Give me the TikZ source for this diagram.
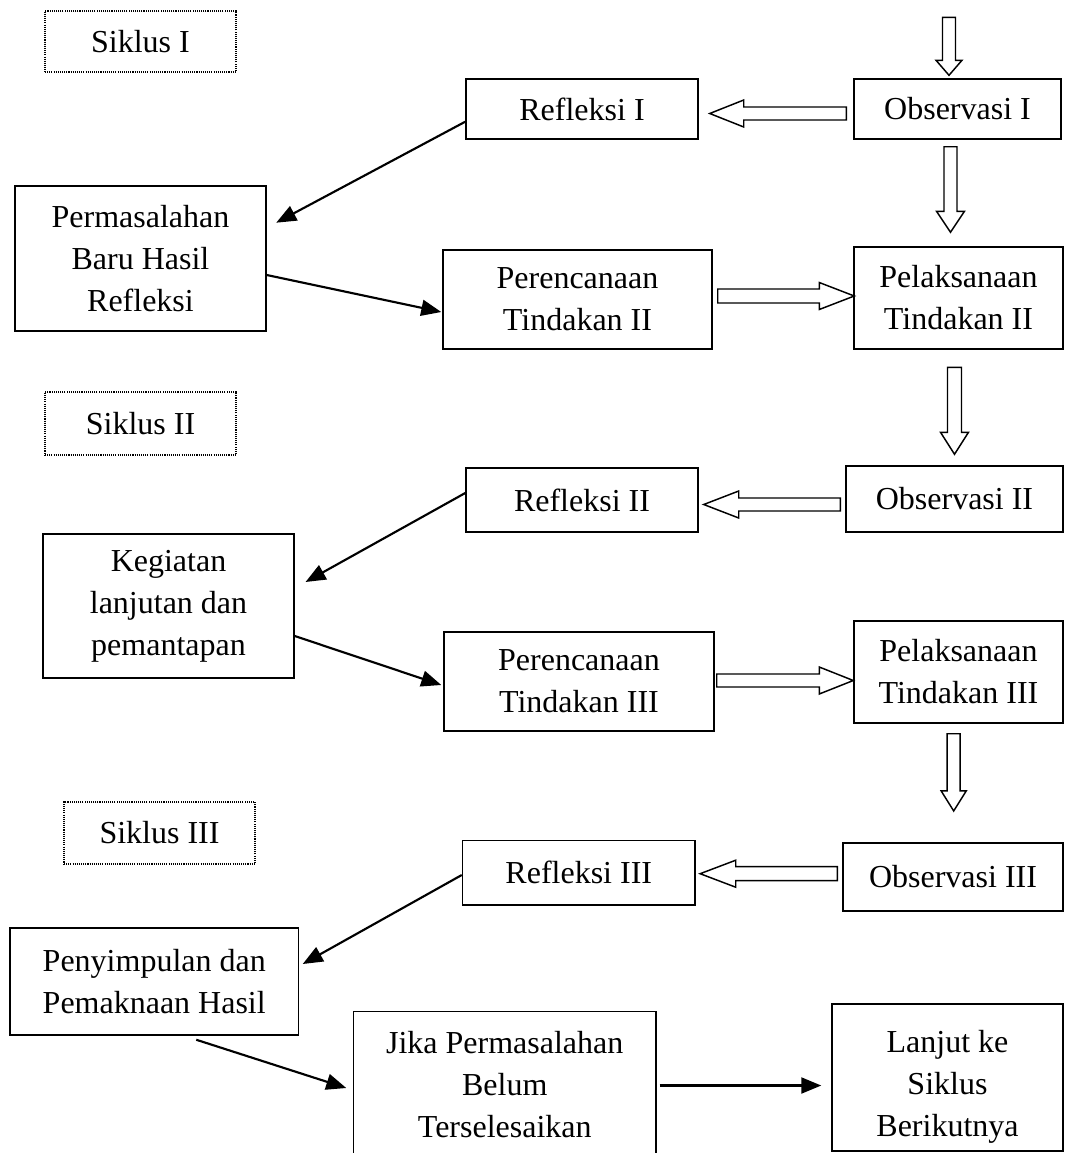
\documentclass[tikz,border=0pt]{standalone}
\usepackage{fontspec}
\setmainfont{Liberation Serif}
\usetikzlibrary{arrows.meta,calc}

\tikzset{
  txt/.style={font=\fontsize{24pt}{31.5pt}\selectfont, align=center},
  sz/.style 2 args={minimum width=#1*0.75pt, minimum height=#2*0.75pt},
  box/.style={draw, line width=1.1pt, inner sep=0pt, txt},
  cyclebox/.style={draw, line width=0.8pt, dash pattern=on 0.8pt off 0.8pt, inner sep=0pt, txt},
  arr/.style={line width=1.6pt, -{Triangle[length=15pt,width=12pt]}},
  blockarr/.style={draw, line width=1.1pt, fill=white, line join=miter},
}

% hollow block arrows: #1 start, #2 tip, #3 head length, #4 shaft half width, #5 head half width (px)
\newcommand\downblock[5]{\draw[blockarr] let \p1=(#1), \p2=(#2) in
  (\x1-#4*0.75pt,\y1) -- (\x1+#4*0.75pt,\y1) -- (\x1+#4*0.75pt,\y2+#3*0.75pt)
  -- (\x1+#5*0.75pt,\y2+#3*0.75pt) -- (\x1,\y2) -- (\x1-#5*0.75pt,\y2+#3*0.75pt)
  -- (\x1-#4*0.75pt,\y2+#3*0.75pt) -- cycle;}
\newcommand\leftblock[5]{\draw[blockarr] let \p1=(#1), \p2=(#2) in
  (\x1,\y1-#4*0.75pt) -- (\x1,\y1+#4*0.75pt) -- (\x2+#3*0.75pt,\y1+#4*0.75pt)
  -- (\x2+#3*0.75pt,\y1+#5*0.75pt) -- (\x2,\y1) -- (\x2+#3*0.75pt,\y1-#5*0.75pt)
  -- (\x2+#3*0.75pt,\y1-#4*0.75pt) -- cycle;}
\newcommand\rightblock[5]{\draw[blockarr] let \p1=(#1), \p2=(#2) in
  (\x1,\y1-#4*0.75pt) -- (\x1,\y1+#4*0.75pt) -- (\x2-#3*0.75pt,\y1+#4*0.75pt)
  -- (\x2-#3*0.75pt,\y1+#5*0.75pt) -- (\x2,\y1) -- (\x2-#3*0.75pt,\y1-#5*0.75pt)
  -- (\x2-#3*0.75pt,\y1-#4*0.75pt) -- cycle;}

\begin{document}
\begin{tikzpicture}[x=0.75pt, y=-0.75pt]
\useasboundingbox (0,0) rectangle (1064,1153);
\clip (0,0) rectangle (1064,1153);

% cycle labels
\node[cyclebox, sz={191}{61}] (s1) at (140.5,41.5) {Siklus I};
\node[cyclebox, sz={191}{63}] (s2) at (140.5,423.5) {Siklus II};
\node[cyclebox, sz={191}{62}] (s3) at (159.5,833) {Siklus III};

% cycle I
\node[box, sz={232}{60}] (ref1) at (582,109) {Refleksi I};
\node[box, sz={207}{60}] (obs1) at (957.5,109) {Observasi I};
\node[box, sz={251}{145}] (perm) at (140.5,258.5) {Permasalahan\\Baru Hasil\\Refleksi};
\node[box, sz={269}{99}] (per2) at (577.5,299.5) {Perencanaan\\Tindakan II};
\node[box, sz={209}{102}] (pel2) at (958.5,298) {Pelaksanaan\\Tindakan II};

% cycle II
\node[box, sz={232}{64}] (ref2) at (582,500) {Refleksi II};
\node[box, sz={217}{66}] (obs2) at (954.5,499) {Observasi II};
\node[box, sz={251}{144}] (keg) at (168.5,606) {Kegiatan\\lanjutan dan\\pemantapan};
\node[box, sz={270}{99}] (per3) at (579,681.5) {Perencanaan\\Tindakan III};
\node[box, sz={209}{102}] (pel3) at (958.5,672) {Pelaksanaan\\Tindakan III};

% cycle III
\node[box, sz={232.5}{64.5}] (ref3) at (578.75,872.75) {Refleksi III};
\node[box, sz={220}{68}] (obs3) at (953,877) {Observasi III};
\node[box, sz={288.5}{107}] (peny) at (154.25,981.5) {Penyimpulan dan\\Pemaknaan Hasil};
\node[box, sz={302.5}{147}] (jika) at (504.75,1085) {Jika Permasalahan\\Belum\\Terselesaikan};
\node[box, sz={231}{147}, label={[txt, yshift=-7pt]center:Lanjut ke\\Siklus\\Berikutnya}] (lanj) at (947.5,1077.5) {};

% free start of the top block arrow
\coordinate (top) at ([shift={(-8.5,-61)}]obs1.north);

% hollow block arrows
\downblock{top}{[shift={(-8.5,-3)}]obs1.north}{15}{6.5}{13}
\leftblock{[shift={(-7,4.5)}]obs1.west}{[shift={(11,4.5)}]ref1.east}{34}{6.5}{13.5}
\downblock{[shift={(-7,7)}]obs1.south}{[shift={(-8,-14)}]pel2.north}{21}{6.5}{14}
\rightblock{[shift={(5,-3.5)}]per2.east}{[shift={(1,-2)}]pel2.west}{35}{7}{13.5}
\downblock{[shift={(-4,17.7)}]pel2.south}{[shift={(0,-11)}]obs2.north}{22}{7}{14}
\leftblock{[shift={(-5,5.5)}]obs2.west}{[shift={(5,4.5)}]ref2.east}{35}{6.5}{13.5}
\rightblock{[shift={(2,-1)}]per3.east}{[shift={(0,8.5)}]pel3.west}{34}{6.5}{13.5}
\downblock{[shift={(-4.8,10)}]pel3.south}{[shift={(0.7,-31.3)}]obs3.north}{20}{6.5}{12.5}
\leftblock{[shift={(-5,-3.3)}]obs3.west}{[shift={(4.4,1)}]ref3.east}{35.6}{7}{13.5}

% solid arrows
\draw[arr] ([shift={(0,12.7)}]ref1.west) -- ([shift={(9.5,-35.8)}]perm.east);
\draw[arr] ([shift={(0,16.5)}]perm.east) -- ([shift={(-1,12.5)}]per2.west);
\draw[arr] ([shift={(0,-7)}]ref2.west) -- ([shift={(10.8,-24)}]keg.east);
\draw[arr] ([shift={(0,30)}]keg.east) -- ([shift={(-2,3.5)}]per3.west);
\draw[arr] ([shift={(0,2.25)}]ref3.west) -- ([shift={(3.5,-17.5)}]peny.east);
\draw[arr] ([shift={(42,4)}]peny.south) -- ([shift={(-6.5,3)}]jika.west);
\draw[arr] ([shift={(3,0.5)}]jika.east) -- ([shift={(-10,8)}]lanj.west);
\end{tikzpicture}
\end{document}
